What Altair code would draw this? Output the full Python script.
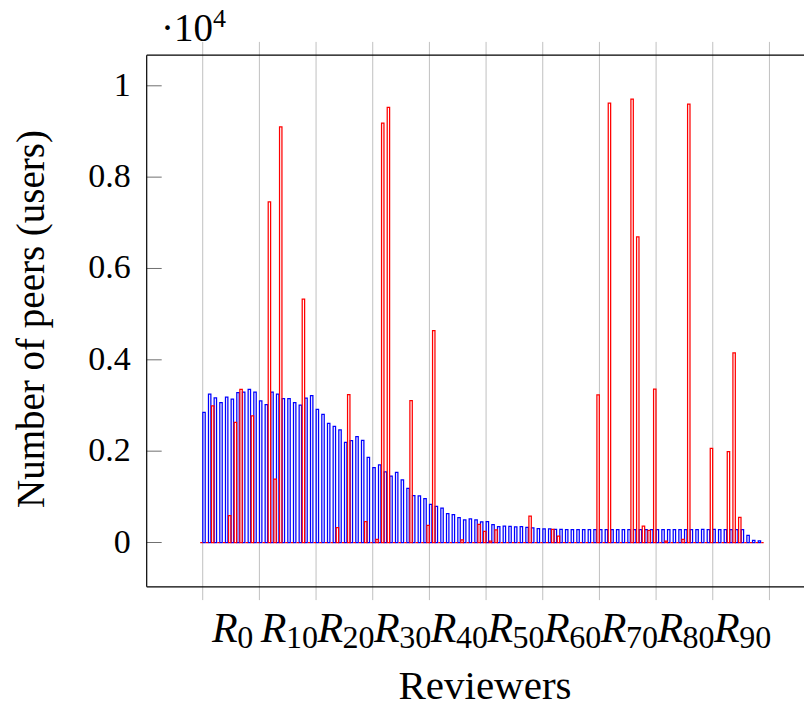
import altair as alt
import pandas as pd

# ---------------- data ----------------
blue_values = [2850, 3250, 3165, 3060, 3185, 3140, 3280, 3295, 3355, 3295,
               3100, 3020, 3290, 3250, 3150, 3150, 3060, 3010, 3160, 3215,
               2915, 2805, 2610, 2540, 2465, 2190, 2230, 2320, 2235, 1865,
               1640, 1700, 1545, 1455, 1535, 1370, 1185, 1025, 1020, 960,
               835, 790, 750, 632, 610, 545, 493, 515, 493, 450,
               457, 390, 347, 361, 354, 340, 347, 333, 318, 303,
               296, 296, 289, 285, 280, 282, 280, 280, 283, 280,
               280, 282, 280, 280, 280, 283, 280, 280, 282, 280,
               280, 280, 280, 282, 280, 280, 280, 282, 290, 280,
               290, 280, 280, 280, 280, 280, 157, 48, 33]

red_values = [0, 0, 2990, 0, 0, 590, 2630, 3355, 0, 2770,
              0, 0, 7460, 1390, 9100, 0, 0, 0, 5330, 0,
              0, 0, 0, 0, 325, 0, 3240, 0, 0, 455,
              0, 70, 9180, 9530, 0, 0, 0, 3105, 0, 0,
              375, 4640, 0, 0, 0, 0, 55, 0, 0, 398,
              245, 30, 274, 0, 0, 0, 0, 0, 580, 0,
              0, 0, 289, 142, 0, 0, 0, 0, 0, 0,
              3230, 0, 9620, 0, 0, 0, 9710, 6690, 361, 267,
              3360, 0, 30, 0, 0, 70, 9600, 0, 0, 0,
              2060, 0, 0, 1990, 4150, 550, 0, 0, 0, 0]

reviewer_index = list(range(100))
y_tick_values = [0, 2000, 4000, 6000, 8000, 10000]
y_tick_labels = ["0", "0.2", "0.4", "0.6", "0.8", "1"]
x_grid_values = [0, 10, 20, 30, 40, 50, 60, 70, 80, 90, 100]
x_label_values = [0, 10, 20, 30, 40, 50, 60, 70, 80, 90]
x_label_subs = ["0", "10", "20", "30", "40", "50", "60", "70", "80", "90"]

# ---------------- layout ----------------
W = 657.3
H = 531.6
FONT = "Liberation Serif"

xs = alt.Scale(domain=[-9.882, 106.10], nice=False, zero=False, padding=0)
ys = alt.Scale(domain=[-970, 10670], nice=False, zero=False, padding=0)

blue_df = pd.DataFrame({"idx": reviewer_index[:len(blue_values)], "value": blue_values})
red_df = pd.DataFrame({"idx": reviewer_index[:len(red_values)], "value": red_values})


def bars(df, color, shift):
    return alt.Chart(df).transform_calculate(
        pos=f"datum.idx + ({shift})"
    ).mark_bar(filled=False, color=color, strokeWidth=1.25, width=2.4).encode(
        x=alt.X("pos:Q", scale=xs, axis=None),
        y=alt.Y("value:Q", scale=ys, axis=None),
        y2=alt.Y2Datum(0),
    )


grid = alt.Chart(pd.DataFrame({"t": x_grid_values})).mark_rule(
    color="#c0c0c0", strokeWidth=1
).encode(
    x=alt.X("t:Q", scale=xs, axis=None),
    y=alt.value(-13.3),
    y2=alt.value(H + 13.3),
)

yt_df = pd.DataFrame({"v": y_tick_values, "lab": y_tick_labels})
ytick_left = alt.Chart(yt_df).mark_rule(color="#707070", strokeWidth=1).encode(
    y=alt.Y("v:Q", scale=ys, axis=None), x=alt.value(0), x2=alt.value(15)
)
ylabels = alt.Chart(yt_df).mark_text(
    align="right", baseline="middle", font=FONT, fontSize=34, color="black"
).encode(y=alt.Y("v:Q", scale=ys, axis=None), x=alt.value(-16), text="lab:N")

one = pd.DataFrame({"k": [0]})
frame_top = alt.Chart(one).mark_rule(color="black", strokeWidth=1.2).encode(
    x=alt.value(0), x2=alt.value(W), y=alt.value(0))
frame_bottom = alt.Chart(one).mark_rule(color="black", strokeWidth=1.2).encode(
    x=alt.value(0), x2=alt.value(W), y=alt.value(H))
frame_left = alt.Chart(one).mark_rule(color="black", strokeWidth=1.2).encode(
    x=alt.value(0), y=alt.value(0), y2=alt.value(H))

xl_df = pd.DataFrame({"t": x_label_values, "sub": x_label_subs})
xl_df["R"] = "R"
xl_df["n"] = xl_df["sub"].str.len()


def xlabel_layers(ndig, dx):
    base = alt.Chart(xl_df).transform_filter(f"datum.n == {ndig}")
    r = base.mark_text(align="right", baseline="alphabetic", font=FONT, fontSize=42,
                       fontStyle="italic", dx=dx, color="black").encode(
        x=alt.X("t:Q", scale=xs, axis=None), y=alt.value(H + 55.5), text="R:N")
    s = base.mark_text(align="left", baseline="alphabetic", font=FONT, fontSize=32,
                       dx=dx - 0.5, color="black").encode(
        x=alt.X("t:Q", scale=xs, axis=None), y=alt.value(H + 61.5), text="sub:N")
    return [r, s]


xlab = xlabel_layers(1, 35) + xlabel_layers(2, 27)

x_title = alt.Chart(one).mark_text(
    text="Reviewers", align="center", baseline="alphabetic", font=FONT, fontSize=41, color="black"
).encode(x=alt.value(338.3), y=alt.value(643.5))

y_title = alt.Chart(one).mark_text(
    text="Number of peers (users)", align="center", baseline="alphabetic", angle=270,
    font=FONT, fontSize=39, color="black"
).encode(x=alt.value(-102.3), y=alt.value(263.8))

scale_txt = alt.Chart(one).mark_text(
    text="\u00b710", align="left", baseline="alphabetic", font=FONT, fontSize=39, color="black"
).encode(x=alt.value(14.3), y=alt.value(-14.5))
scale_exp = alt.Chart(one).mark_text(
    text="4", align="left", baseline="alphabetic", font=FONT, fontSize=26, color="black"
).encode(x=alt.value(66.3), y=alt.value(-28.5))

chart = alt.layer(
    grid,
    bars(blue_df, "#0000ff", 0.23),
    bars(red_df, "#ff0000", -0.23),
    ytick_left,
    frame_top, frame_bottom, frame_left,
    ylabels, *xlab, x_title, y_title, scale_txt, scale_exp,
).properties(
    width=W, height=H,
    padding={"left": 138.7, "top": 47.2, "right": 0, "bottom": 113.2},
    autosize=alt.AutoSizeParams(type="none"),
    background="white",
).configure_view(stroke=None)

chart.save("out.html", embed_options={"renderer": "svg", "actions": False})
